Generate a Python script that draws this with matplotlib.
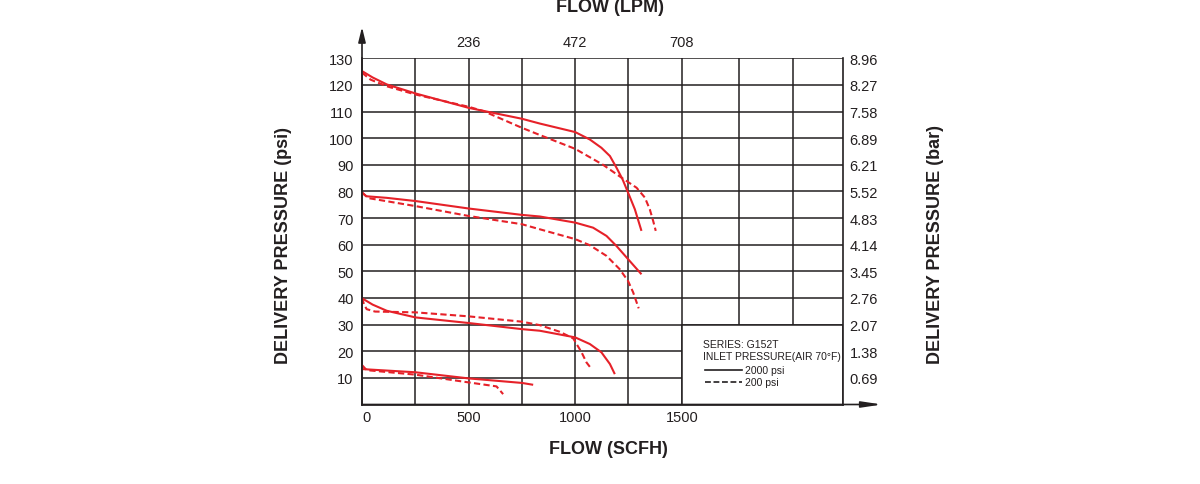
import matplotlib
matplotlib.use("Agg")
import matplotlib.pyplot as plt
from matplotlib.patches import Rectangle

plt.rcParams['font.family'] = ['Liberation Sans', 'DejaVu Sans']

# ---- data ----
hi_solid_x = [0, 50, 116, 251, 500, 750, 834, 1000, 1069, 1123, 1163, 1194, 1222, 1248, 1280, 1311]
hi_solid_y = [125.2, 122.8, 120.2, 116.8, 111.4, 107.3, 105.5, 102.3, 99.5, 96.4, 93.3, 88.9, 84.6, 79.6, 73.3, 65.2]
hi_dash_x = [0, 40, 116, 251, 500, 569, 750, 834, 1000, 1131, 1217, 1288, 1327, 1350, 1366, 1378]
hi_dash_y = [124.6, 122.0, 119.5, 116.4, 111.8, 110.2, 103.9, 101.2, 96.0, 90.0, 85.2, 81.4, 77.7, 73.3, 68.9, 65.2]

mid_solid_x = [0, 20, 116, 251, 500, 750, 834, 1000, 1084, 1147, 1194, 1248, 1311]
mid_solid_y = [79.6, 78.2, 77.6, 76.4, 73.6, 71.2, 70.6, 68.3, 66.4, 63.3, 59.5, 54.6, 48.9]
mid_dash_x = [0, 30, 251, 500, 750, 834, 1000, 1069, 1147, 1209, 1248, 1272, 1298]
mid_dash_y = [79.6, 77.5, 74.5, 70.8, 67.7, 65.8, 62.1, 59.8, 55.8, 50.8, 46.4, 42.1, 36.1]

low_solid_x = [0, 50, 116, 251, 500, 750, 834, 1000, 1069, 1123, 1163, 1186]
low_solid_y = [39.9, 37.5, 35.2, 32.7, 30.6, 28.3, 27.7, 25.2, 22.7, 19.6, 15.2, 11.4]
low_dash_x = [0, 10, 22, 61, 251, 500, 750, 834, 928, 991, 1030, 1053, 1077]
low_dash_y = [40.0, 37.5, 35.8, 34.9, 34.6, 33.1, 31.1, 29.8, 27.3, 24.8, 19.6, 15.8, 13.3]

btm_solid_x = [0, 251, 500, 750, 803]
btm_solid_y = [13.3, 12.1, 9.8, 8.1, 7.4]
btm_dash_x = [0, 22, 251, 500, 631, 662]
btm_dash_y = [14.8, 12.9, 11.2, 8.3, 6.8, 3.9]

x_grid = [0, 250, 500, 750, 1000, 1250, 1500, 1770, 2020]
x_labels = ['500', '1000', '1500']
x_label_pos = [500, 1000, 1500]
top_labels = ['236', '472', '708']
psi_ticks = [10, 20, 30, 40, 50, 60, 70, 80, 90, 100, 110, 120, 130]
bar_labels = ['0.69', '1.38', '2.07', '2.76', '3.45', '4.14', '4.83',
              '5.52', '6.21', '6.89', '7.58', '8.27', '8.96']

RED = '#e62129'
INK = '#231f20'
XMAX = 2255

fig = plt.figure(figsize=(12, 4.85), dpi=100)
ax = fig.add_axes([362/1200, (485-405.5)/485, (842.7-362)/1200, (405.5-59.3)/485])
ax.set_xlim(0, XMAX)
ax.set_ylim(0, 130)

# grid
for gx in x_grid[1:]:
    ax.plot([gx, gx], [0, 130], color=INK, lw=1.1, zorder=1)
for gy in psi_ticks:
    ax.plot([0, XMAX], [gy, gy], color=INK, lw=1.1, zorder=1)

# legend box (white, covers grid)
ax.add_patch(Rectangle((1500, 0), XMAX - 1500, 30, facecolor='white',
                       edgecolor=INK, lw=1.1, zorder=2))

dash = (3, 1.6)
kw = dict(color=RED, lw=1.5, zorder=3, solid_capstyle='butt', solid_joinstyle='round')
for xs, ys in [(hi_solid_x, hi_solid_y), (mid_solid_x, mid_solid_y),
               (low_solid_x, low_solid_y), (btm_solid_x, btm_solid_y)]:
    ax.plot(xs, ys, **kw)
for xs, ys in [(hi_dash_x, hi_dash_y), (mid_dash_x, mid_dash_y),
               (low_dash_x, low_dash_y), (btm_dash_x, btm_dash_y)]:
    ax.plot(xs, ys, dashes=dash, **kw)

# spines
ax.spines['top'].set_visible(False)
for s in ['left', 'bottom', 'right']:
    ax.spines[s].set_color(INK)
    ax.spines[s].set_linewidth(1.2)

ax.set_xticks(x_label_pos)
ax.set_xticklabels(x_labels, fontsize=10.5, color=INK)
ax.set_yticks(psi_ticks)
ax.set_yticklabels([str(v) for v in psi_ticks], fontsize=10.5, color=INK)
ax.tick_params(axis='x', length=0, pad=4)
ax.tick_params(axis='y', length=0, pad=6)
ax.text(20, -2.0, '0', ha='center', va='top', fontsize=10.5, color=INK)

# right bar axis
ax2 = ax.twinx()
ax2.set_ylim(0, 130)
ax2.set_yticks(psi_ticks)
ax2.set_yticklabels(bar_labels, fontsize=10.5, color=INK)
ax2.tick_params(axis='y', length=0, pad=5)
for s in ax2.spines.values():
    s.set_visible(False)

# top LPM axis
ax3 = ax.twiny()
ax3.set_xlim(0, XMAX)
ax3.set_xticks(x_label_pos)
ax3.set_xticklabels(top_labels, fontsize=10.5, color=INK)
ax3.tick_params(axis='x', length=0, pad=7)
for s in ax3.spines.values():
    s.set_visible(False)

# arrows
ax.annotate('', xy=(0, (405.5-28)/346.2), xytext=(0, 0), xycoords='axes fraction',
            arrowprops=dict(arrowstyle='-|>,head_length=0.9,head_width=0.22',
                            color=INK, lw=1.2, shrinkA=0, shrinkB=0))
ax.annotate('', xy=((882-362)/480.7, 0), xytext=(0, 0), xycoords='axes fraction',
            arrowprops=dict(arrowstyle='-|>,head_length=1.2,head_width=0.18',
                            color=INK, lw=1.2, shrinkA=0, shrinkB=0))

# legend contents
lfs = 7.5
ax.text(1598, 22.7, 'SERIES: G152T', fontsize=lfs, color=INK, va='center', ha='left', zorder=4)
ax.text(1598, 18.2, 'INLET PRESSURE(AIR 70°F)', fontsize=lfs, color=INK, va='center', ha='left', zorder=4)
ax.plot([1608, 1781], [12.9, 12.9], color=INK, lw=1.2, zorder=4)
ax.text(1795, 12.9, '2000 psi', fontsize=lfs, color=INK, va='center', ha='left', zorder=4)
ax.plot([1608, 1781], [8.4, 8.4], color=INK, lw=1.2, dashes=(3.5, 1.6), zorder=4)
ax.text(1795, 8.4, '200 psi', fontsize=lfs, color=INK, va='center', ha='left', zorder=4)

# axis titles
fig.text(610/1200, 1 - 7/485, 'FLOW (LPM)', ha='center', va='center',
         fontsize=13, fontweight='bold', color=INK)
fig.text(608/1200, 1 - 450/485, 'FLOW (SCFH)', ha='center', va='center',
         fontsize=13, fontweight='bold', color=INK)
fig.text(283/1200, 1 - 245/485, 'DELIVERY PRESSURE (psi)', ha='center', va='center',
         rotation=90, fontsize=13, fontweight='bold', color=INK)
fig.text(936/1200, 1 - 245/485, 'DELIVERY PRESSURE (bar)', ha='center', va='center',
         rotation=90, fontsize=13, fontweight='bold', color=INK)

fig.savefig('out.png', dpi=100, facecolor='white')
